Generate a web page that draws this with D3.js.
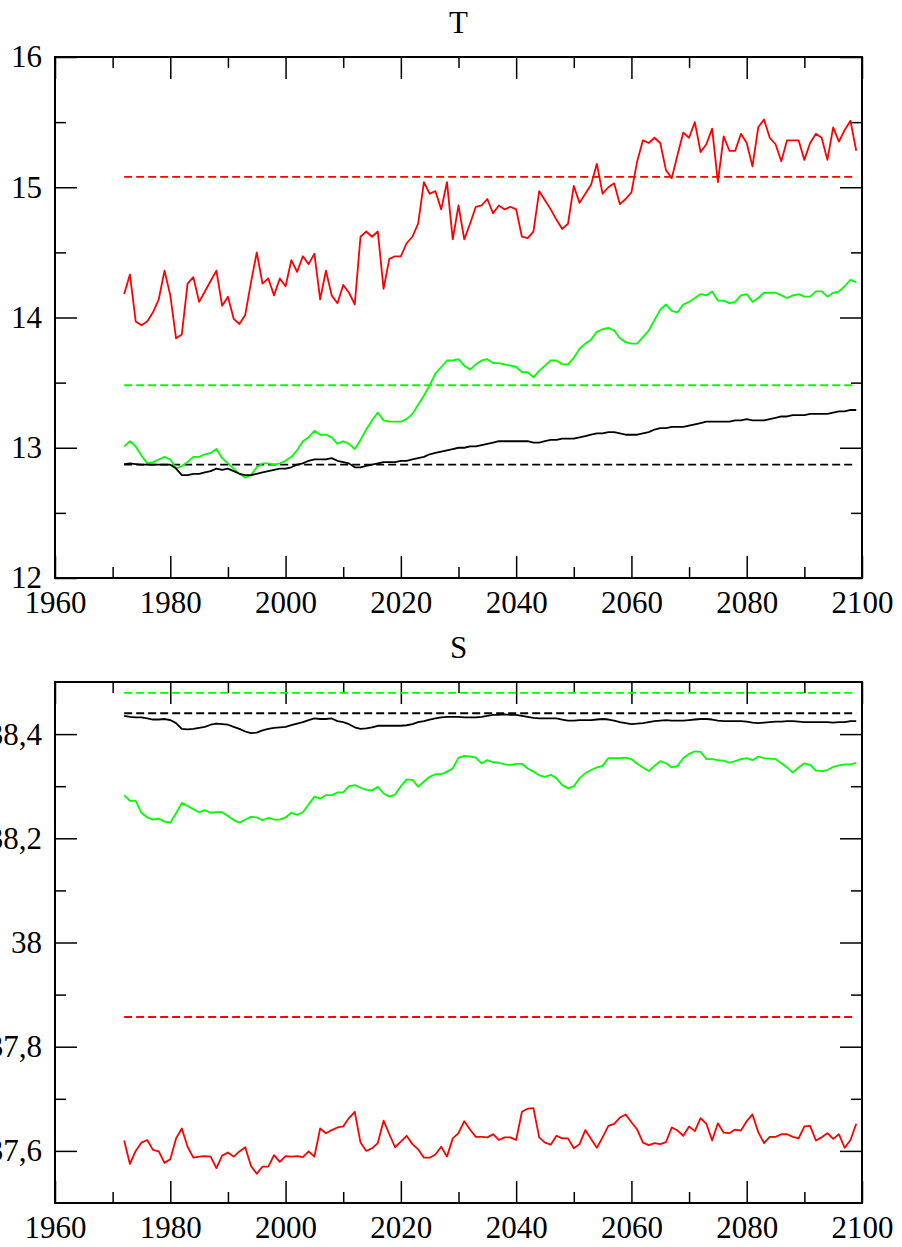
<!DOCTYPE html>
<html>
<head>
<meta charset="utf-8">
<script src="https://cdn.jsdelivr.net/npm/d3@7"></script>
<style>
  body { margin: 0; background: #fff; }
</style>
</head>
<body>
<div id="chart"></div>
<script>
const years = d3.range(1972, 2100)

// T panel
const T_red = [
    14.18, 14.33, 13.97, 13.94, 13.97, 14.04, 14.14, 14.36, 14.17, 13.84,
    13.87, 14.26, 14.31, 14.12, 14.20, 14.28, 14.36, 14.09, 14.16, 13.99,
    13.95, 14.02, 14.27, 14.50, 14.26, 14.30, 14.17, 14.30, 14.24, 14.44,
    14.35, 14.47, 14.41, 14.49, 14.14, 14.36, 14.17, 14.11, 14.25, 14.19,
    14.10, 14.62, 14.66, 14.62, 14.66, 14.22, 14.45, 14.47, 14.47, 14.57,
    14.62, 14.72, 15.04, 14.95, 14.97, 14.83, 15.04, 14.60, 14.86, 14.60,
    14.72, 14.85, 14.86, 14.91, 14.80, 14.86, 14.83, 14.85, 14.83, 14.62,
    14.61, 14.66, 14.97, 14.90, 14.83, 14.75, 14.68, 14.72, 15.01, 14.88,
    14.95, 15.02, 15.18, 14.95, 15.00, 15.03, 14.87, 14.91, 14.96, 15.20,
    15.36, 15.34, 15.38, 15.34, 15.13, 15.07, 15.25, 15.42, 15.38, 15.50,
    15.27, 15.33, 15.45, 15.04, 15.39, 15.28, 15.28, 15.41, 15.34, 15.16,
    15.46, 15.52, 15.38, 15.33, 15.20, 15.36, 15.36, 15.36, 15.21, 15.34,
    15.41, 15.38, 15.21, 15.46, 15.35, 15.44, 15.51, 15.28
]
const T_green = [
    13.01, 13.05, 13.01, 12.94, 12.88, 12.89, 12.91, 12.93, 12.91, 12.84,
    12.86, 12.89, 12.93, 12.93, 12.95, 12.96, 12.99, 12.92, 12.88, 12.84,
    12.80, 12.77, 12.79, 12.85, 12.88, 12.88, 12.87, 12.88, 12.90, 12.93,
    12.98, 13.05, 13.08, 13.13, 13.10, 13.10, 13.08, 13.03, 13.05, 13.03,
    12.99, 13.06, 13.14, 13.21, 13.27, 13.21, 13.20, 13.20, 13.20, 13.22,
    13.26, 13.33, 13.40, 13.48, 13.57, 13.62, 13.67, 13.67, 13.68, 13.63,
    13.60, 13.64, 13.67, 13.68, 13.65, 13.65, 13.64, 13.63, 13.62, 13.58,
    13.58, 13.54, 13.59, 13.63, 13.67, 13.67, 13.64, 13.64, 13.69, 13.76,
    13.80, 13.83, 13.89, 13.91, 13.92, 13.90, 13.84, 13.81, 13.80, 13.80,
    13.85, 13.90, 13.98, 14.06, 14.10, 14.05, 14.04, 14.10, 14.12, 14.15,
    14.18, 14.17, 14.20, 14.13, 14.13, 14.11, 14.12, 14.17, 14.18, 14.12,
    14.15, 14.19, 14.19, 14.19, 14.17, 14.15, 14.17, 14.18, 14.16, 14.16,
    14.20, 14.20, 14.16, 14.19, 14.20, 14.24, 14.29, 14.27
]
const T_black = [
    12.875, 12.88, 12.875, 12.87, 12.87, 12.87, 12.87, 12.87, 12.87, 12.84,
    12.79, 12.79, 12.80, 12.80, 12.81, 12.82, 12.84, 12.83, 12.84, 12.82,
    12.80, 12.79, 12.79, 12.80, 12.81, 12.82, 12.83, 12.84, 12.84, 12.85,
    12.87, 12.88, 12.90, 12.91, 12.91, 12.91, 12.92, 12.90, 12.89, 12.88,
    12.85, 12.85, 12.86, 12.87, 12.88, 12.89, 12.89, 12.89, 12.90, 12.90,
    12.91, 12.92, 12.93, 12.95, 12.96, 12.97, 12.98, 12.99, 13.00, 13.00,
    13.01, 13.01, 13.02, 13.03, 13.04, 13.05, 13.05, 13.05, 13.05, 13.05,
    13.05, 13.04, 13.04, 13.05, 13.06, 13.06, 13.07, 13.07, 13.07, 13.08,
    13.09, 13.10, 13.11, 13.11, 13.12, 13.12, 13.11, 13.10, 13.10, 13.10,
    13.11, 13.12, 13.14, 13.15, 13.15, 13.16, 13.16, 13.16, 13.17, 13.18,
    13.19, 13.20, 13.20, 13.20, 13.20, 13.20, 13.21, 13.21, 13.22, 13.21,
    13.21, 13.21, 13.22, 13.23, 13.24, 13.24, 13.25, 13.25, 13.25, 13.26,
    13.26, 13.26, 13.26, 13.27, 13.28, 13.28, 13.29, 13.29
]
const T_dashed = [15.08, 13.48, 12.87]

// S panel
const S_red = [
    37.620, 37.575, 37.600, 37.616, 37.621, 37.602, 37.599, 37.577, 37.584, 37.624,
    37.643, 37.608, 37.587, 37.589, 37.590, 37.589, 37.567, 37.591, 37.597, 37.589,
    37.599, 37.607, 37.571, 37.556, 37.570, 37.570, 37.592, 37.579, 37.590, 37.589,
    37.590, 37.588, 37.599, 37.589, 37.643, 37.634, 37.640, 37.645, 37.647, 37.663,
    37.675, 37.616, 37.600, 37.605, 37.615, 37.658, 37.632, 37.607, 37.618, 37.629,
    37.613, 37.603, 37.587, 37.587, 37.593, 37.608, 37.589, 37.624, 37.634, 37.657,
    37.641, 37.627, 37.627, 37.626, 37.632, 37.621, 37.626, 37.626, 37.621, 37.675,
    37.681, 37.682, 37.626, 37.616, 37.612, 37.629, 37.624, 37.624, 37.605, 37.613,
    37.640, 37.623, 37.606, 37.626, 37.648, 37.652, 37.664, 37.670, 37.655, 37.641,
    37.616, 37.611, 37.615, 37.613, 37.617, 37.645, 37.639, 37.629, 37.647, 37.638,
    37.663, 37.652, 37.620, 37.653, 37.635, 37.634, 37.641, 37.639, 37.657, 37.670,
    37.636, 37.615, 37.627, 37.627, 37.632, 37.632, 37.627, 37.624, 37.647, 37.648,
    37.620, 37.626, 37.634, 37.623, 37.632, 37.606, 37.621, 37.652
]
const S_green = [
    38.283, 38.272, 38.272, 38.249, 38.240, 38.236, 38.238, 38.232, 38.230, 38.248,
    38.268, 38.262, 38.256, 38.250, 38.254, 38.249, 38.250, 38.250, 38.243, 38.235,
    38.230, 38.236, 38.241, 38.240, 38.235, 38.239, 38.236, 38.236, 38.240, 38.249,
    38.245, 38.250, 38.265, 38.280, 38.276, 38.283, 38.283, 38.288, 38.288, 38.300,
    38.302, 38.297, 38.293, 38.292, 38.299, 38.286, 38.280, 38.284, 38.300, 38.313,
    38.312, 38.299, 38.309, 38.318, 38.323, 38.323, 38.328, 38.334, 38.355, 38.358,
    38.357, 38.355, 38.344, 38.350, 38.346, 38.345, 38.342, 38.341, 38.343, 38.343,
    38.334, 38.328, 38.321, 38.318, 38.322, 38.315, 38.302, 38.296, 38.300, 38.315,
    38.325, 38.331, 38.336, 38.339, 38.354, 38.354, 38.354, 38.355, 38.352, 38.343,
    38.336, 38.329, 38.339, 38.348, 38.344, 38.336, 38.339, 38.354, 38.362, 38.367,
    38.366, 38.352, 38.352, 38.350, 38.349, 38.345, 38.348, 38.352, 38.354, 38.350,
    38.357, 38.354, 38.353, 38.352, 38.344, 38.336, 38.326, 38.336, 38.344, 38.341,
    38.330, 38.329, 38.331, 38.337, 38.340, 38.342, 38.342, 38.345
]
const S_black = [
    38.435, 38.433, 38.432, 38.432, 38.430, 38.428, 38.428, 38.429, 38.427, 38.421,
    38.410, 38.409, 38.410, 38.412, 38.414, 38.418, 38.420, 38.419, 38.418, 38.414,
    38.410, 38.405, 38.402, 38.403, 38.407, 38.410, 38.412, 38.413, 38.414, 38.417,
    38.420, 38.423, 38.427, 38.430, 38.429, 38.429, 38.430, 38.425, 38.423, 38.419,
    38.413, 38.410, 38.411, 38.413, 38.416, 38.416, 38.416, 38.416, 38.416, 38.417,
    38.419, 38.423, 38.425, 38.428, 38.430, 38.432, 38.433, 38.433, 38.433, 38.432,
    38.432, 38.432, 38.433, 38.435, 38.437, 38.437, 38.438, 38.437, 38.437, 38.435,
    38.433, 38.431, 38.430, 38.430, 38.430, 38.430, 38.428, 38.426, 38.426, 38.427,
    38.427, 38.427, 38.428, 38.429, 38.428, 38.426, 38.423, 38.421, 38.419, 38.420,
    38.421, 38.423, 38.425, 38.426, 38.427, 38.426, 38.426, 38.426, 38.427, 38.428,
    38.429, 38.429, 38.428, 38.426, 38.425, 38.425, 38.425, 38.425, 38.424, 38.422,
    38.421, 38.422, 38.423, 38.424, 38.424, 38.425, 38.425, 38.424, 38.423, 38.423,
    38.423, 38.423, 38.423, 38.422, 38.423, 38.423, 38.425, 38.425
]
const S_dashed = [37.857, 38.479, 38.44]

const series_colors = ["#ff0000", "#00ff00", "#000000"]

const x_major = [1960, 1980, 2000, 2020, 2040, 2060, 2080, 2100]
const x_minor = [1970, 1990, 2010, 2030, 2050, 2070, 2090]
const T_major = [12, 13, 14, 15, 16]
const T_labels = ["12", "13", "14", "15", "16"]
const T_minor = [12.5, 13.5, 14.5, 15.5]
const S_major = [37.6, 37.8, 38, 38.2, 38.4]
const S_labels = ["37,6", "37,8", "38", "38,2", "38,4"]
const S_minor = [37.7, 37.9, 38.1, 38.3]

const WIDTH = 902
const HEIGHT = 1247
const LEFT = 55
const RIGHT = 862
const FONT = "'Liberation Serif', 'Times New Roman', serif"
const FONT_SIZE = 31
const MAJOR = 22
const MINOR = 11

const svg = d3.select("#chart").append("svg")
    .attr("width", WIDTH)
    .attr("height", HEIGHT)

const x = d3.scaleLinear().domain([1960, 2100]).range([LEFT, RIGHT])

const make_panel = (opts) => {
    const y = d3.scaleLinear().domain(opts.domain).range([opts.bottom, opts.top])
    const g = svg.append("g")

    const tidy = sel => {
        sel.select(".domain").remove()
        sel.selectAll(".tick line").attr("stroke-width", 1.5)
        sel.selectAll("text")
            .attr("font-family", FONT)
            .attr("font-size", FONT_SIZE)
            .attr("fill", "#000")
    }

    // ticks on all four sides, pointing inward
    g.append("g").attr("transform", `translate(0,${opts.bottom})`)
        .call(d3.axisBottom(x).tickValues(x_major).tickFormat(d3.format("d"))
            .tickSize(-MAJOR).tickPadding(13))
        .call(tidy)
    g.append("g").attr("transform", `translate(0,${opts.bottom})`)
        .call(d3.axisBottom(x).tickValues(x_minor).tickFormat("").tickSize(-MINOR))
        .call(tidy)
    g.append("g").attr("transform", `translate(0,${opts.top})`)
        .call(d3.axisTop(x).tickValues(x_major).tickFormat("").tickSize(-MAJOR))
        .call(tidy)
    g.append("g").attr("transform", `translate(0,${opts.top})`)
        .call(d3.axisTop(x).tickValues(x_minor).tickFormat("").tickSize(-MINOR))
        .call(tidy)

    g.append("g").attr("transform", `translate(${LEFT},0)`)
        .call(d3.axisLeft(y).tickValues(opts.major)
            .tickFormat((d, i) => opts.labels[i]).tickSize(-MAJOR).tickPadding(13))
        .call(tidy)
    g.append("g").attr("transform", `translate(${LEFT},0)`)
        .call(d3.axisLeft(y).tickValues(opts.minor).tickFormat("").tickSize(-MINOR))
        .call(tidy)
    g.append("g").attr("transform", `translate(${RIGHT},0)`)
        .call(d3.axisRight(y).tickValues(opts.major).tickFormat("").tickSize(-MAJOR))
        .call(tidy)
    g.append("g").attr("transform", `translate(${RIGHT},0)`)
        .call(d3.axisRight(y).tickValues(opts.minor).tickFormat("").tickSize(-MINOR))
        .call(tidy)

    // reference levels
    const flat = d3.line().x(d => x(d[0])).y(d => y(d[1]))
    g.append("g")
        .selectAll("path")
        .data(opts.dashed)
        .enter()
        .append("path")
        .attr("d", d => flat([[years[0], d], [years[years.length - 1], d]]))
        .attr("stroke", (_d, i) => series_colors[i])
        .attr("stroke-width", 1.8)
        .attr("stroke-dasharray", "8,4")
        .attr("fill", "none")

    const line = d3.line().x((_d, i) => x(years[i])).y(d => y(d))
    g.append("g")
        .selectAll("path")
        .data(opts.series)
        .enter()
        .append("path")
        .attr("d", d => line(d))
        .attr("stroke", (_d, i) => series_colors[i])
        .attr("stroke-width", 1.8)
        .attr("stroke-linejoin", "round")
        .attr("fill", "none")

    g.append("rect")
        .attr("x", LEFT)
        .attr("y", opts.top)
        .attr("width", RIGHT - LEFT)
        .attr("height", opts.bottom - opts.top)
        .attr("fill", "none")
        .attr("stroke", "#000")
        .attr("stroke-width", 2)

    g.append("text")
        .attr("x", (LEFT + RIGHT) / 2)
        .attr("y", opts.top - 24)
        .attr("text-anchor", "middle")
        .attr("font-family", FONT)
        .attr("font-size", FONT_SIZE)
        .text(opts.title)
}

make_panel({
    title: "T",
    top: 57,
    bottom: 578,
    domain: [12, 16],
    major: T_major,
    labels: T_labels,
    minor: T_minor,
    dashed: T_dashed,
    series: [T_red, T_green, T_black]
})

make_panel({
    title: "S",
    top: 682,
    bottom: 1203,
    domain: [37.5, 38.5],
    major: S_major,
    labels: S_labels,
    minor: S_minor,
    dashed: S_dashed,
    series: [S_red, S_green, S_black]
})
</script>
</body>
</html>
